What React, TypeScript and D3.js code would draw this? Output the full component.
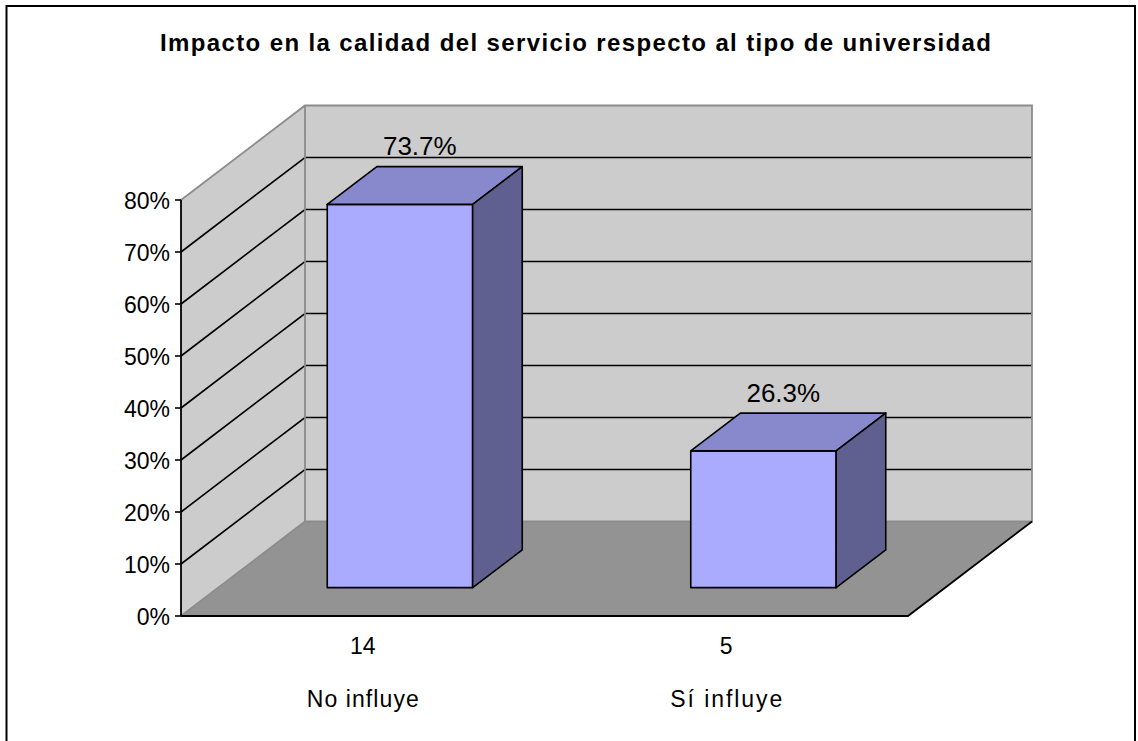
import React from "react";
import * as d3 from "d3";

const title = "Impacto en la calidad del servicio respecto al tipo de universidad";
const categories = ["No influye", "Sí influye"];
const counts = [14, 5];
const percents = [73.7, 26.3];
const yTicks = [0, 10, 20, 30, 40, 50, 60, 70, 80];

const W = 1138;
const H = 741;
const FRONT_LEFT = 181;
const FRONT_RIGHT = 908;
const DX = 124;
const DY = 94.5;
const Z0 = 0.3;
const Z1 = 0.7;

export default function App() {
  const y = d3.scaleLinear().domain([0, 80]).range([616, 200]);
  const x = d3
    .scaleBand<string>()
    .domain(categories)
    .range([FRONT_LEFT, FRONT_RIGHT])
    .paddingInner(0.6)
    .paddingOuter(0.3);
  const P = (xf: number, v: number, z: number): [number, number] => [xf + z * DX, y(v) - z * DY];
  const pts = (arr: [number, number][]) => arr.map((p) => p.join(",")).join(" ");
  const line = d3.line();
  const yMax = yTicks[yTicks.length - 1];
  const font = "'Liberation Sans', Arial, sans-serif";
  const wallFill = "#CCCCCC";
  const floorFill = "#939393";
  const edge = "#8C8C8C";

  return (
    <svg
      width={W}
      height={H}
      style={{ position: "absolute", left: 0, top: 0, background: "#fff" }}
      fontFamily={font}
    >
      <rect x={0} y={0} width={W} height={H} fill="#fff" />
      <rect x={6.5} y={6} width={1128.5} height={800} fill="none" stroke="#000" strokeWidth={2} />
      <text
        x={160}
        y={51}
        fontSize={24}
        fontWeight="bold"
        textLength={831}
        lengthAdjust="spacing"
      >
        {title}
      </text>

      {/* side wall */}
      <polygon
        points={pts([P(FRONT_LEFT, 0, 0), P(FRONT_LEFT, yMax, 0), P(FRONT_LEFT, yMax, 1), P(FRONT_LEFT, 0, 1)])}
        fill={wallFill}
      />
      {/* back wall */}
      <polygon
        points={pts([P(FRONT_LEFT, 0, 1), P(FRONT_LEFT, yMax, 1), P(FRONT_RIGHT, yMax, 1), P(FRONT_RIGHT, 0, 1)])}
        fill={wallFill}
      />
      {/* floor */}
      <polygon
        points={pts([P(FRONT_LEFT, 0, 0), P(FRONT_RIGHT, 0, 0), P(FRONT_RIGHT, 0, 1), P(FRONT_LEFT, 0, 1)])}
        fill={floorFill}
      />

      {/* gridlines */}
      {yTicks
        .filter((t) => t > 0 && t < yMax)
        .map((t) => (
          <path
            key={"g" + t}
            d={line([P(FRONT_LEFT, t, 0), P(FRONT_LEFT, t, 1), P(FRONT_RIGHT, t, 1)]) || ""}
            fill="none"
            stroke="#000"
            strokeWidth={1.6}
          />
        ))}

      {/* gray wall edges */}
      <path
        d={line([P(FRONT_LEFT, yMax, 0), P(FRONT_LEFT, yMax, 1), P(FRONT_RIGHT, yMax, 1), P(FRONT_RIGHT, 0, 1), P(FRONT_LEFT, 0, 1), P(FRONT_LEFT, yMax, 1)]) || ""}
        fill="none"
        stroke={edge}
        strokeWidth={1.8}
      />
      <path d={line([P(FRONT_LEFT, 0, 0), P(FRONT_LEFT, 0, 1)]) || ""} stroke={edge} strokeWidth={1.8} />

      {/* floor black edges */}
      <path
        d={line([P(FRONT_LEFT, 0, 0), P(FRONT_RIGHT, 0, 0), P(FRONT_RIGHT, 0, 1)]) || ""}
        fill="none"
        stroke="#000"
        strokeWidth={1.8}
      />

      {/* axis */}
      <line x1={FRONT_LEFT} x2={FRONT_LEFT} y1={y(0)} y2={y(yMax)} stroke="#000" strokeWidth={1.8} />
      {yTicks.map((t) => (
        <g key={"t" + t}>
          <line x1={FRONT_LEFT - 6} x2={FRONT_LEFT} y1={y(t)} y2={y(t)} stroke="#000" strokeWidth={1.6} />
          <text x={FRONT_LEFT - 11} y={y(t) + 8.5} fontSize={23} textAnchor="end">
            {t + "%"}
          </text>
        </g>
      ))}

      {/* bars */}
      {categories.map((c, i) => {
        const x0 = x(c) as number;
        const x1 = x0 + x.bandwidth();
        const v = percents[i];
        const front = [P(x0, v, Z0), P(x1, v, Z0), P(x1, 0, Z0), P(x0, 0, Z0)] as [number, number][];
        const top = [P(x0, v, Z0), P(x1, v, Z0), P(x1, v, Z1), P(x0, v, Z1)] as [number, number][];
        const side = [P(x1, 0, Z0), P(x1, v, Z0), P(x1, v, Z1), P(x1, 0, Z1)] as [number, number][];
        const cx = x0 + x.bandwidth() / 2;
        return (
          <g key={c} stroke="#000" strokeWidth={1.6} strokeLinejoin="round">
            <polygon points={pts(front)} fill="#AAAAFF" />
            <polygon points={pts(top)} fill="#8888CC" />
            <polygon points={pts(side)} fill="#606090" />
            <text
              x={cx + 0.46 * DX}
              y={y(v) - 0.82 * DY}
              fontSize={26}
              textAnchor="middle"
              stroke="none"
              fill="#000"
            >
              {percents[i].toFixed(1) + "%"}
            </text>
          </g>
        );
      })}

      {/* category labels */}
      {categories.map((c, i) => {
        const cx = (x(c) as number) + x.bandwidth() / 2;
        return (
          <g key={"c" + c}>
            <text x={cx} y={654} fontSize={23} textAnchor="middle">
              {String(counts[i])}
            </text>
            <text x={cx} y={707} fontSize={23} textAnchor="middle" textLength={112} lengthAdjust="spacing">
              {c}
            </text>
          </g>
        );
      })}
    </svg>
  );
}
